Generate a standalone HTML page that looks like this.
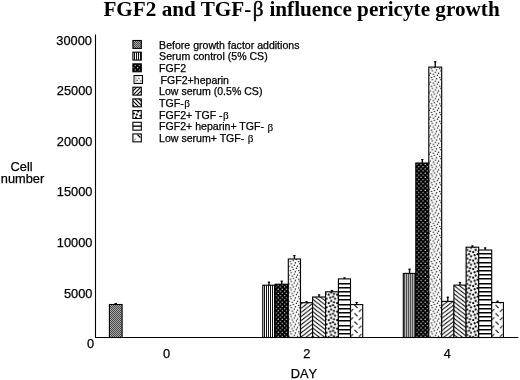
<!DOCTYPE html>
<html><head><meta charset="utf-8"><title>FGF2 and TGF-β influence pericyte growth</title>
<style>
html,body{margin:0;padding:0;background:#fff}
body{width:520px;height:380px;overflow:hidden}
svg{display:block}
text{font-family:"Liberation Sans",sans-serif;fill:#000}
.ti{font-family:"Liberation Serif",serif;font-weight:bold;font-size:21.2px}
.ti .sy{font-weight:normal;stroke:#000;stroke-width:0.45px}
.sy{font-family:"Liberation Serif",serif;stroke:none}
.lg .sy{font-size:11.2px;stroke:#000;stroke-width:0.15px}
.lg{font-size:10.57px;stroke:#000;stroke-width:0.25px}
.tk{font-size:12.8px;stroke:#000;stroke-width:0.25px}
</style></head><body>
<svg width="520" height="380" viewBox="0 0 520 380">
<defs>
<pattern id="pg" width="2" height="2" patternUnits="userSpaceOnUse"><rect width="2" height="2" fill="#a8a8a8"/><rect width="1" height="1" fill="#4a4a4a"/><rect x="1" y="1" width="1" height="1" fill="#4a4a4a"/></pattern>
<pattern id="pv" width="2" height="2" patternUnits="userSpaceOnUse"><rect width="2" height="2" fill="#fff"/><rect x="0" width="1" height="2" fill="#111"/></pattern>
<pattern id="pv2" width="2" height="2" patternUnits="userSpaceOnUse"><rect width="2" height="2" fill="#b6b6b6"/><rect x="0" width="1" height="2" fill="#505050"/></pattern>
<pattern id="pdd" width="4.2" height="4.3" patternUnits="userSpaceOnUse"><rect width="4.2" height="4.3" fill="#000"/><circle cx="1.00" cy="1.00" r="0.66" fill="#fff"/><circle cx="3.10" cy="3.15" r="0.66" fill="#fff"/></pattern>
<pattern id="pld" width="8.3" height="8.77" patternUnits="userSpaceOnUse"><rect width="8.3" height="8.77" fill="#fff"/><circle cx="0.80" cy="0.80" r="0.74" fill="#111"/><circle cx="3.90" cy="2.10" r="0.74" fill="#111"/><circle cx="7.00" cy="3.20" r="0.74" fill="#111"/><circle cx="1.80" cy="4.20" r="0.74" fill="#111"/><circle cx="5.90" cy="5.10" r="0.74" fill="#111"/><circle cx="2.90" cy="6.25" r="0.74" fill="#111"/><circle cx="-0.20" cy="7.20" r="0.74" fill="#111"/><circle cx="8.10" cy="7.20" r="0.74" fill="#111"/><circle cx="5.00" cy="-0.17" r="0.74" fill="#111"/><circle cx="5.00" cy="8.60" r="0.74" fill="#111"/></pattern>
<pattern id="pf" width="5.3" height="4.1" patternUnits="userSpaceOnUse"><rect width="5.3" height="4.1" fill="#fff"/><path d="M-5.3 4.1 L5.3 -4.1 M-5.3 8.2 L10.6 -4.1 M0 8.2 L10.6 0" stroke="#000" stroke-width="1.0"/></pattern>
<pattern id="pb" width="5.3" height="4.1" patternUnits="userSpaceOnUse"><rect width="5.3" height="4.1" fill="#fff"/><path d="M-5.3 -4.1 L5.3 4.1 M-5.3 0 L5.3 8.2 M0 -4.1 L10.6 4.1" stroke="#000" stroke-width="1.0"/></pattern>
<pattern id="pfl" width="4" height="4" patternUnits="userSpaceOnUse"><rect width="4" height="4" fill="#fff"/><path d="M-1 1 L1 -1 M-1 5 L5 -1 M3 5 L5 3" stroke="#000" stroke-width="1.1"/></pattern>
<pattern id="pbl" width="4" height="4" patternUnits="userSpaceOnUse"><rect width="4" height="4" fill="#fff"/><path d="M-1 3 L1 5 M-1 -1 L5 5 M3 -1 L5 1" stroke="#000" stroke-width="1.1"/></pattern>
<pattern id="pbd" width="8.5" height="8.5" patternUnits="userSpaceOnUse"><rect width="8.5" height="8.5" fill="#fff"/><circle cx="1.48" cy="-0.80" r="1.1" fill="#000"/><circle cx="1.48" cy="7.70" r="1.1" fill="#000"/><circle cx="7.16" cy="0.27" r="1.1" fill="#000"/><circle cx="7.16" cy="8.77" r="1.1" fill="#000"/><circle cx="3.60" cy="1.33" r="1.1" fill="#000"/><circle cx="-0.30" cy="3.46" r="1.1" fill="#000"/><circle cx="8.20" cy="3.46" r="1.1" fill="#000"/><circle cx="2.54" cy="4.90" r="1.1" fill="#000"/><circle cx="5.74" cy="5.60" r="1.1" fill="#000"/></pattern>
<pattern id="ph" width="4" height="4.2" patternUnits="userSpaceOnUse"><rect width="4" height="4.2" fill="#fff"/><rect y="0.65" width="4" height="1.3" fill="#000"/></pattern>
<pattern id="pz" width="8.3" height="8.3" patternUnits="userSpaceOnUse"><rect width="8.3" height="8.3" fill="#fff"/><path d="M-2.40 -2.10 L0.60 0.90 M-2.40 6.20 L0.60 9.20 M-2.40 14.50 L0.60 17.50 M5.90 -2.10 L8.90 0.90 M5.90 6.20 L8.90 9.20 M5.90 14.50 L8.90 17.50 M14.20 -2.10 L17.20 0.90 M14.20 6.20 L17.20 9.20 M14.20 14.50 L17.20 17.50 M-6.45 -3.50 L-3.65 -6.30 M-6.45 4.80 L-3.65 2.00 M-6.45 13.10 L-3.65 10.30 M1.85 -3.50 L4.65 -6.30 M1.85 4.80 L4.65 2.00 M1.85 13.10 L4.65 10.30 M10.15 -3.50 L12.95 -6.30 M10.15 4.80 L12.95 2.00 M10.15 13.10 L12.95 10.30" stroke="#111" stroke-width="1.05" fill="none"/></pattern>
</defs>
<rect width="520" height="380" fill="#fff"/>
<text class="ti" x="103.4" y="15.7">FGF2 and TGF-<tspan class="sy" dx="1.3">β</tspan><tspan dx="0.7"> influence pericyte growth</tspan></text>
<rect x="109.4" y="304.5" width="12.70" height="33.00" fill="url(#pg)" stroke="#000" stroke-width="1.1"/><path d="M115.75 304.5 V303.0" stroke="#000" stroke-width="1.35" fill="none"/><path d="M114.50 303.45 H117.00" stroke="#000" stroke-width="1" fill="none"/>
<rect x="262.8" y="285.2" width="12.30" height="52.30" fill="url(#pv)" stroke="#000" stroke-width="1.1"/><path d="M268.95 285.2 V281.75" stroke="#000" stroke-width="1.35" fill="none"/><path d="M267.70 282.2 H270.20" stroke="#000" stroke-width="1" fill="none"/>
<rect x="275.1" y="284.2" width="13.20" height="53.30" fill="url(#pdd)" stroke="#000" stroke-width="1.1"/><path d="M281.70 284.2 V280.75" stroke="#000" stroke-width="1.35" fill="none"/><path d="M280.45 281.2 H282.95" stroke="#000" stroke-width="1" fill="none"/>
<rect x="288.3" y="259.0" width="12.20" height="78.50" fill="url(#pld)" stroke="#000" stroke-width="1.1"/><path d="M294.40 259.0 V255.2" stroke="#000" stroke-width="1.35" fill="none"/><path d="M293.15 255.64999999999998 H295.65" stroke="#000" stroke-width="1" fill="none"/>
<rect x="300.5" y="302.7" width="12.10" height="34.80" fill="url(#pf)" stroke="#000" stroke-width="1.1"/><path d="M306.55 302.7 V301.25" stroke="#000" stroke-width="1.35" fill="none"/><path d="M305.30 301.7 H307.80" stroke="#000" stroke-width="1" fill="none"/>
<rect x="312.6" y="297.0" width="13.00" height="40.50" fill="url(#pb)" stroke="#000" stroke-width="1.1"/><path d="M319.10 297.0 V294.5" stroke="#000" stroke-width="1.35" fill="none"/><path d="M317.85 294.95 H320.35" stroke="#000" stroke-width="1" fill="none"/>
<rect x="325.6" y="291.8" width="12.80" height="45.70" fill="url(#pbd)" stroke="#000" stroke-width="1.1"/><path d="M332.00 291.8 V290" stroke="#000" stroke-width="1.35" fill="none"/><path d="M330.75 290.45 H333.25" stroke="#000" stroke-width="1" fill="none"/>
<rect x="338.4" y="278.9" width="12.10" height="58.60" fill="#fff" stroke="#000" stroke-width="1.1"/><path d="M338.4 283.7 H350.5 M338.4 287.7 H350.5 M338.4 291.7 H350.5 M338.4 295.7 H350.5 M338.4 299.7 H350.5 M338.4 304.7 H350.5 M338.4 308.7 H350.5 M338.4 312.7 H350.5 M338.4 316.7 H350.5 M338.4 320.7 H350.5 M338.4 325.7 H350.5 M338.4 329.7 H350.5 M338.4 333.7 H350.5" stroke="#000" stroke-width="1.4" fill="none"/><path d="M344.45 278.9 V277.5" stroke="#000" stroke-width="1.35" fill="none"/><path d="M343.20 277.95 H345.70" stroke="#000" stroke-width="1" fill="none"/>
<rect x="350.5" y="304.6" width="12.20" height="32.90" fill="url(#pz)" stroke="#000" stroke-width="1.1"/><path d="M356.60 304.6 V302" stroke="#000" stroke-width="1.35" fill="none"/><path d="M355.35 302.45 H357.85" stroke="#000" stroke-width="1" fill="none"/>
<rect x="403.3" y="273.4" width="12.50" height="64.10" fill="url(#pv2)" stroke="#000" stroke-width="1.1"/><path d="M409.55 273.4 V268.75" stroke="#000" stroke-width="1.35" fill="none"/><path d="M408.30 269.2 H410.80" stroke="#000" stroke-width="1" fill="none"/>
<rect x="415.8" y="163.0" width="13.00" height="174.50" fill="url(#pdd)" stroke="#000" stroke-width="1.1"/><path d="M422.30 163.0 V159.2" stroke="#000" stroke-width="1.35" fill="none"/><path d="M421.05 159.64999999999998 H423.55" stroke="#000" stroke-width="1" fill="none"/>
<rect x="428.8" y="67.1" width="12.90" height="270.40" fill="url(#pld)" stroke="#000" stroke-width="1.1"/><path d="M435.25 67.1 V61.3" stroke="#000" stroke-width="1.35" fill="none"/><path d="M434.00 61.75 H436.50" stroke="#000" stroke-width="1" fill="none"/>
<rect x="441.7" y="301.4" width="12.20" height="36.10" fill="url(#pf)" stroke="#000" stroke-width="1.1"/><path d="M447.80 301.4 V296.75" stroke="#000" stroke-width="1.35" fill="none"/><path d="M446.55 297.2 H449.05" stroke="#000" stroke-width="1" fill="none"/>
<rect x="453.9" y="285.1" width="12.20" height="52.40" fill="url(#pb)" stroke="#000" stroke-width="1.1"/><path d="M460.00 285.1 V282" stroke="#000" stroke-width="1.35" fill="none"/><path d="M458.75 282.45 H461.25" stroke="#000" stroke-width="1" fill="none"/>
<rect x="466.1" y="247.2" width="12.60" height="90.30" fill="url(#pbd)" stroke="#000" stroke-width="1.1"/><path d="M472.40 247.2 V245.5" stroke="#000" stroke-width="1.35" fill="none"/><path d="M471.15 245.95 H473.65" stroke="#000" stroke-width="1" fill="none"/>
<rect x="478.7" y="250.0" width="13.00" height="87.50" fill="#fff" stroke="#000" stroke-width="1.1"/><path d="M478.7 253.7 H491.7 M478.7 257.7 H491.7 M478.7 262.7 H491.7 M478.7 266.7 H491.7 M478.7 270.7 H491.7 M478.7 274.7 H491.7 M478.7 278.7 H491.7 M478.7 283.7 H491.7 M478.7 287.7 H491.7 M478.7 291.7 H491.7 M478.7 295.7 H491.7 M478.7 299.7 H491.7 M478.7 304.7 H491.7 M478.7 308.7 H491.7 M478.7 312.7 H491.7 M478.7 316.7 H491.7 M478.7 320.7 H491.7 M478.7 325.7 H491.7 M478.7 329.7 H491.7 M478.7 333.7 H491.7" stroke="#000" stroke-width="1.4" fill="none"/><path d="M485.20 250.0 V247.5" stroke="#000" stroke-width="1.35" fill="none"/><path d="M483.95 247.95 H486.45" stroke="#000" stroke-width="1" fill="none"/>
<rect x="491.7" y="302.5" width="11.70" height="35.00" fill="url(#pz)" stroke="#000" stroke-width="1.1"/><path d="M497.55 302.5 V300.75" stroke="#000" stroke-width="1.35" fill="none"/><path d="M496.30 301.2 H498.80" stroke="#000" stroke-width="1" fill="none"/>
<path d="M95.5 34.5 V338 M95 337.5 H518.3" stroke="#000" stroke-width="1.1" fill="none"/>
<rect x="132.9" y="40.50" width="8.4" height="7.9" fill="url(#pg)" stroke="#000" stroke-width="1.1"/>
<text class="lg" x="159.10" y="48.65">Before growth factor additions</text>
<rect x="132.9" y="52.18" width="8.4" height="7.9" fill="url(#pv)" stroke="#000" stroke-width="1.1"/>
<text class="lg" x="159.10" y="60.33">Serum control (5% CS)</text>
<rect x="132.9" y="63.86" width="8.4" height="7.9" fill="url(#pdd)" stroke="#000" stroke-width="1.1"/>
<text class="lg" x="159.10" y="72.01">FGF2</text>
<rect x="134.1" y="75.54" width="8.4" height="7.9" fill="#fff" stroke="#000" stroke-width="1.1"/>
<g transform="translate(134.1,75.54)"><rect x="0.6" y="0.6" width="7.2" height="6.7" fill="#cfcfcf"/><g fill="#fff"><rect x="2.6" y="1.3" width="2.1" height="5.6"/><rect x="4.6" y="1.1" width="2.8" height="2.6"/><rect x="5.4" y="3.6" width="2.0" height="3.2"/></g><g fill="#3a3a3a"><rect x="2.5" y="4.2" width="1.2" height="1.3"/><rect x="4.3" y="2.2" width="1.1" height="1.2"/><rect x="6.2" y="4.8" width="1.2" height="1.2"/></g></g>
<text class="lg" x="160.60" y="83.69">FGF2+heparin</text>
<rect x="132.9" y="87.22" width="8.4" height="7.9" fill="url(#pfl)" stroke="#000" stroke-width="1.1"/>
<text class="lg" x="159.10" y="95.37">Low serum (0.5% CS)</text>
<rect x="132.9" y="98.90" width="8.4" height="7.9" fill="url(#pbl)" stroke="#000" stroke-width="1.1"/>
<text class="lg" x="159.10" y="107.05">TGF-<tspan class="sy" dx="0.5" dy="0.4">β</tspan></text>
<rect x="132.9" y="110.58" width="8.4" height="7.9" fill="#fff" stroke="#000" stroke-width="1.1"/>
<g fill="#000" transform="translate(132.9,110.58)"><circle cx="5.2" cy="1.0" r="1.05"/><circle cx="1.0" cy="3.0" r="1.05"/><circle cx="3.9" cy="4.0" r="1.05"/><circle cx="7.4" cy="5.2" r="1.05"/><circle cx="3.0" cy="7.0" r="1.05"/></g>
<text class="lg" x="159.10" y="118.73">FGF2+ TGF -<tspan class="sy" dx="0.5" dy="0.4">β</tspan></text>
<rect x="132.9" y="122.26" width="8.4" height="7.9" fill="#fff" stroke="#000" stroke-width="1.1"/>
<path d="M132.9 126.16 h8.4" stroke="#000" stroke-width="1.4"/>
<text class="lg" x="159.10" y="130.41">FGF2+ heparin+ TGF- <tspan class="sy" dx="0.5" dy="0.4">β</tspan></text>
<rect x="132.9" y="133.94" width="8.4" height="7.9" fill="#fff" stroke="#000" stroke-width="1.1"/>
<path d="M137.40 134.64 L140.40 137.54" stroke="#000" stroke-width="1.2"/><path d="M134.10 140.44 L135.70 138.54" stroke="#555" stroke-width="1.0"/>
<text class="lg" x="159.10" y="142.09">Low serum+ TGF- <tspan class="sy" dx="0.5" dy="0.4">β</tspan></text>
<text class="tk" text-anchor="end" x="91.95" y="44.90">30000</text>
<text class="tk" text-anchor="end" x="92.4" y="95.43">25000</text>
<text class="tk" text-anchor="end" x="92.4" y="145.96">20000</text>
<text class="tk" text-anchor="end" x="92.4" y="196.49">15000</text>
<text class="tk" text-anchor="end" x="92.4" y="247.02">10000</text>
<text class="tk" text-anchor="end" x="92.4" y="297.55">5000</text>
<text class="tk" text-anchor="end" x="94.1" y="348.08">0</text>
<text class="tk" x="10.6" y="171.1">Cell</text>
<text class="tk" x="0.8" y="183.3">number</text>
<text class="tk" text-anchor="middle" x="166.5" y="357.8">0</text>
<text class="tk" text-anchor="middle" x="306.9" y="357.9">2</text>
<text class="tk" text-anchor="middle" x="447.3" y="357.9">4</text>
<text class="tk" text-anchor="middle" x="304" y="378.2" style="font-kerning:none">DAY</text>
</svg>
</body></html>
